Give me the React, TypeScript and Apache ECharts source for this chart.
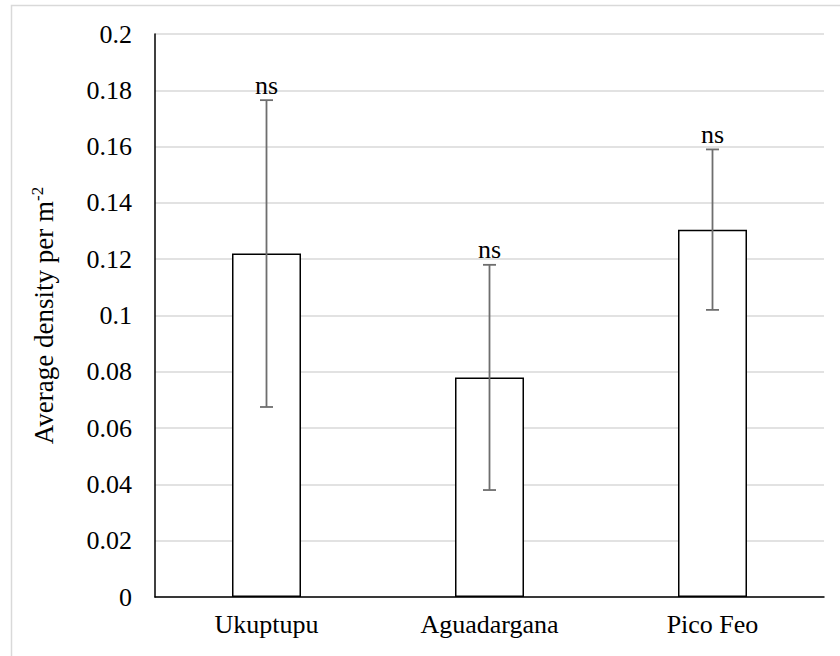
import React, { useEffect, useRef } from "react";
import * as echarts from "echarts";

const categories = ["Ukuptupu", "Aguadargana", "Pico Feo"];
const means = [0.122, 0.078, 0.1305];
const errors = [0.0545, 0.04, 0.0285];
const sigLabels = ["ns", "ns", "ns"];
const yMin = 0;
const yMax = 0.2;
const yInterval = 0.02;

const FONT = "Liberation Serif";

export default function App() {
  const ref = useRef<HTMLDivElement>(null);
  useEffect(() => {
    if (!ref.current) return;
    const chart = echarts.init(ref.current, null, { renderer: "svg" });
    const errData = categories.map((c, i) => [i, means[i] - errors[i], means[i] + errors[i], sigLabels[i]]);
    chart.setOption({
      animation: false,
      backgroundColor: "#ffffff",
      textStyle: { fontFamily: FONT },
      graphic: [
        {
          type: "polyline",
          shape: { points: [[11.5, 660], [11.5, 5.5], [845, 5.5]] },
          style: { stroke: "#d9d9d9", lineWidth: 1.5, fill: null },
          silent: true,
        },
      ],
      grid: { left: 155, right: 16, top: 34, bottom: 59 },
      xAxis: {
        type: "category",
        data: categories,
        axisTick: { show: false },
        axisLine: { lineStyle: { color: "#000", width: 1.5 } },
        axisLabel: { color: "#000", fontFamily: FONT, fontSize: 26, margin: 14 },
      },
      yAxis: {
        type: "value",
        min: yMin,
        max: yMax,
        interval: yInterval,
        name: "Average density per m{sup|-2}",
        nameLocation: "middle",
        nameRotate: 90,
        nameGap: 96,
        nameTextStyle: {
          color: "#000",
          fontFamily: FONT,
          fontSize: 27,
          rich: {
            sup: { fontFamily: FONT, fontSize: 17, color: "#000", padding: [0, 0, 13, 0] },
          },
        },
        axisLine: { show: true, lineStyle: { color: "#000", width: 1.5 } },
        axisTick: { show: false },
        axisLabel: { color: "#000", fontFamily: FONT, fontSize: 26, margin: 23 },
        splitLine: { lineStyle: { color: "#d9d9d9", width: 1.5 } },
      },
      series: [
        {
          type: "bar",
          data: means,
          barWidth: 69,
          itemStyle: { color: "#ffffff", borderColor: "#000", borderWidth: 1.5 },
        },
        {
          type: "custom",
          data: errData,
          z: 10,
          renderItem: (params: any, api: any) => {
            const x = api.value(0);
            const lo = api.coord([x, api.value(1)]);
            const hi = api.coord([x, api.value(2)]);
            const cap = 6.5;
            const style = { stroke: "#6e6e6e", lineWidth: 1.8 };
            return {
              type: "group",
              children: [
                { type: "line", shape: { x1: lo[0], y1: lo[1], x2: hi[0], y2: hi[1] }, style },
                { type: "line", shape: { x1: lo[0] - cap, y1: lo[1], x2: lo[0] + cap, y2: lo[1] }, style },
                { type: "line", shape: { x1: hi[0] - cap, y1: hi[1], x2: hi[0] + cap, y2: hi[1] }, style },
                {
                  type: "text",
                  x: hi[0],
                  y: hi[1] - 2,
                  style: {
                    text: String(errData[params.dataIndex][3]),
                    fontFamily: FONT,
                    fontSize: 26,
                    fill: "#000",
                    align: "center",
                    verticalAlign: "bottom",
                  },
                },
              ],
            };
          },
        },
      ],
    });
    return () => chart.dispose();
  }, []);
  return (
    <div
      ref={ref}
      style={{ position: "fixed", left: 0, top: 0, width: 840, height: 656 }}
    />
  );
}
